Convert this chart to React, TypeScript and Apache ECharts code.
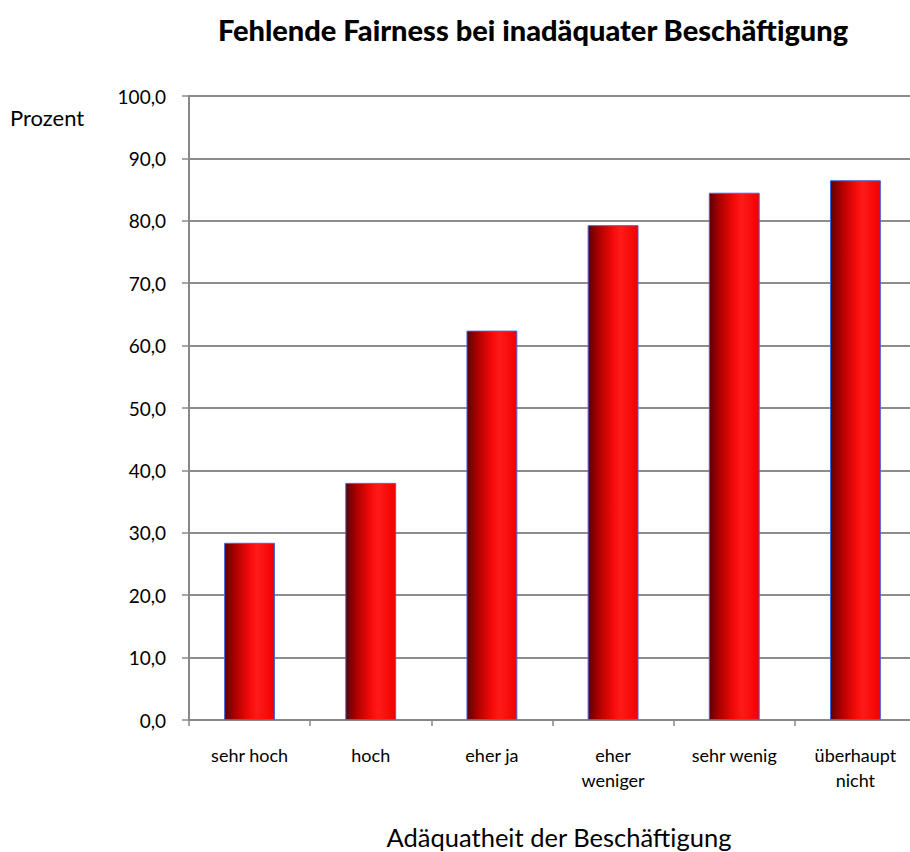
import React, { useEffect, useRef } from "react";
import * as echarts from "echarts";

const categories = ["sehr hoch", "hoch", "eher ja", "eher\nweniger", "sehr wenig", "überhaupt\nnicht"];
const values = [28.4, 38.0, 62.4, 79.3, 84.5, 86.5];
const title = "Fehlende Fairness bei inadäquater Beschäftigung";
const yName = "Prozent";
const xName = "Adäquatheit der Beschäftigung";

const FONT = "Lato, 'Open Sans', sans-serif";

export default function App() {
  const ref = useRef<HTMLDivElement>(null);
  useEffect(() => {
    if (!ref.current) return;
    const chart = echarts.init(ref.current, null, { renderer: "svg" });
    chart.setOption({
      animation: false,
      backgroundColor: "#ffffff",
      title: {
        text: title,
        left: 528,
        top: 10,
        textAlign: "center",
        textStyle: { fontFamily: FONT, fontSize: 29, fontWeight: 900, color: "#000" },
      },
      graphic: [
        {
          type: "text",
          left: 10,
          top: 106,
          style: { text: yName, fontFamily: FONT, fontSize: 22, fill: "#000" },
        },
        {
          type: "text",
          x: 559,
          y: 837,
          style: {
            text: xName,
            fontFamily: FONT,
            fontSize: 25.5,
            fill: "#000",
            textAlign: "center",
            textVerticalAlign: "middle",
          },
        },
      ],
      grid: { left: 189, width: 727, top: 96, height: 624, containLabel: false },
      xAxis: {
        type: "category",
        data: categories,
        axisLine: { lineStyle: { color: "#888", width: 2 } },
        axisTick: { show: true, length: 6, lineStyle: { color: "#888", width: 1.5 } },
        axisLabel: {
          fontFamily: FONT,
          fontSize: 18,
          color: "#000",
          margin: 22,
          lineHeight: 25,
          interval: 0,
        },
      },
      yAxis: {
        type: "value",
        min: 0,
        max: 100,
        interval: 10,
        axisLine: { show: true, lineStyle: { color: "#888", width: 2 } },
        axisTick: { show: true, length: 7, lineStyle: { color: "#888", width: 1.5 } },
        axisLabel: {
          fontFamily: FONT,
          fontSize: 19,
          color: "#000",
          margin: 23,
          formatter: (v: number) => v.toFixed(1).replace(".", ","),
        },
        splitLine: { lineStyle: { color: "#8c8c8c", width: 2 } },
      },
      series: [
        {
          type: "bar",
          data: values,
          barWidth: "42%",
          itemStyle: {
            color: new echarts.graphic.LinearGradient(0, 0, 1, 0, [
              { offset: 0, color: "#5c0000" },
              { offset: 0.2, color: "#a80000" },
              { offset: 0.5, color: "#f50a0a" },
              { offset: 0.65, color: "#ff1a1a" },
              { offset: 1, color: "#f20000" },
            ]),
            borderColor: "#4466dd",
            borderWidth: 1,
          },
        },
      ],
    });
    return () => chart.dispose();
  }, []);
  return (
    <div
      style={{ position: "absolute", left: 0, top: 0, width: 910, height: 852, overflow: "hidden" }}
    >
      <div ref={ref} style={{ width: 940, height: 852 }} />
    </div>
  );
}
